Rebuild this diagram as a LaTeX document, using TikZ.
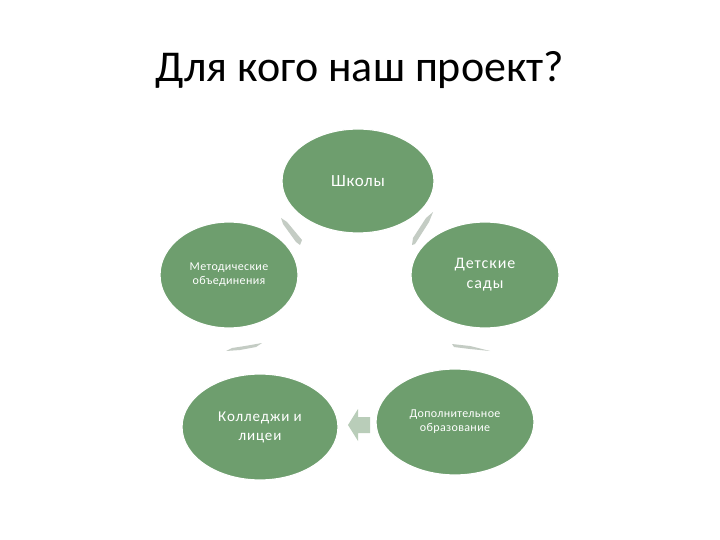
\documentclass[tikz,border=0pt]{standalone}
\usepackage{fontspec}
\setmainfont{Carlito}
\usetikzlibrary{shapes.geometric}
\definecolor{ellg}{HTML}{6E9E6E}
\definecolor{arrg}{HTML}{B9CDB9}
\definecolor{slv}{HTML}{C4CCC4}
\begin{document}
\begin{tikzpicture}[x=1pt,y=-1pt,
  blob/.style={ellipse, fill=ellg, draw=white, line width=1.2pt, text=white, align=center, inner sep=0pt},
  sliver/.style={fill=slv, draw=none}]
\useasboundingbox (0,0) rectangle (720,540);
\fill[white] (0,0) rectangle (720,540);
\node[font=\fontsize{44}{48}\selectfont] (title) at (360,70) {Для кого наш проект?};
\node[blob, minimum width=152pt, minimum height=104pt, font=\fontsize{17}{20}\selectfont\addfontfeatures{LetterSpace=4}] (sch) at (358,181) {Школы};
\node[blob, minimum width=138pt, minimum height=106pt, font=\fontsize{12}{14}\selectfont\addfontfeatures{LetterSpace=3}] (met) at (229,275) {Методические\\объединения};
\node[blob, minimum width=148pt, minimum height=106pt, font=\fontsize{16}{20}\selectfont\addfontfeatures{LetterSpace=6}] (det) at (485,275) {Детские\\сады};
\node[blob, minimum width=156pt, minimum height=106pt, font=\fontsize{15}{19}\selectfont\addfontfeatures{LetterSpace=6}] (kol) at (260,427) {Колледжи и\\лицеи};
\node[blob, minimum width=158pt, minimum height=106pt, font=\fontsize{12}{14}\selectfont\addfontfeatures{LetterSpace=3}] (dop) at (455,422) {Дополнительное\\образование};
% connectors (faint cycle arrows)
\coordinate (a1s) at (300,245); \coordinate (a1e) at (281,218);
\fill[sliver] (a1e) -- (287,222) -- (302,240) -- (a1s) -- (296,242) -- (283,224) -- cycle;
\coordinate (a2s) at (412,245); \coordinate (a2e) at (433,212);
\fill[sliver] (a2e) -- (429,222) -- (415,244) -- (a2s) -- (413,238) -- (426,218) -- cycle;
\coordinate (a3s) at (452,344); \coordinate (a3e) at (490,351);
\fill[sliver] (a3s) -- (470,346) -- (a3e) -- (470,349) -- (454,347) -- cycle;
\coordinate (a4s) at (262,343); \coordinate (a4e) at (226,351);
\fill[sliver] (a4s) -- (245,346) -- (232,348) -- (a4e) -- (240,350) -- (256,347) -- cycle;
\fill[arrg] (370,417) -- (358,417) -- (358,409) -- (348,425) -- (358,441) -- (358,433) -- (370,433) -- cycle;
\end{tikzpicture}
\end{document}
